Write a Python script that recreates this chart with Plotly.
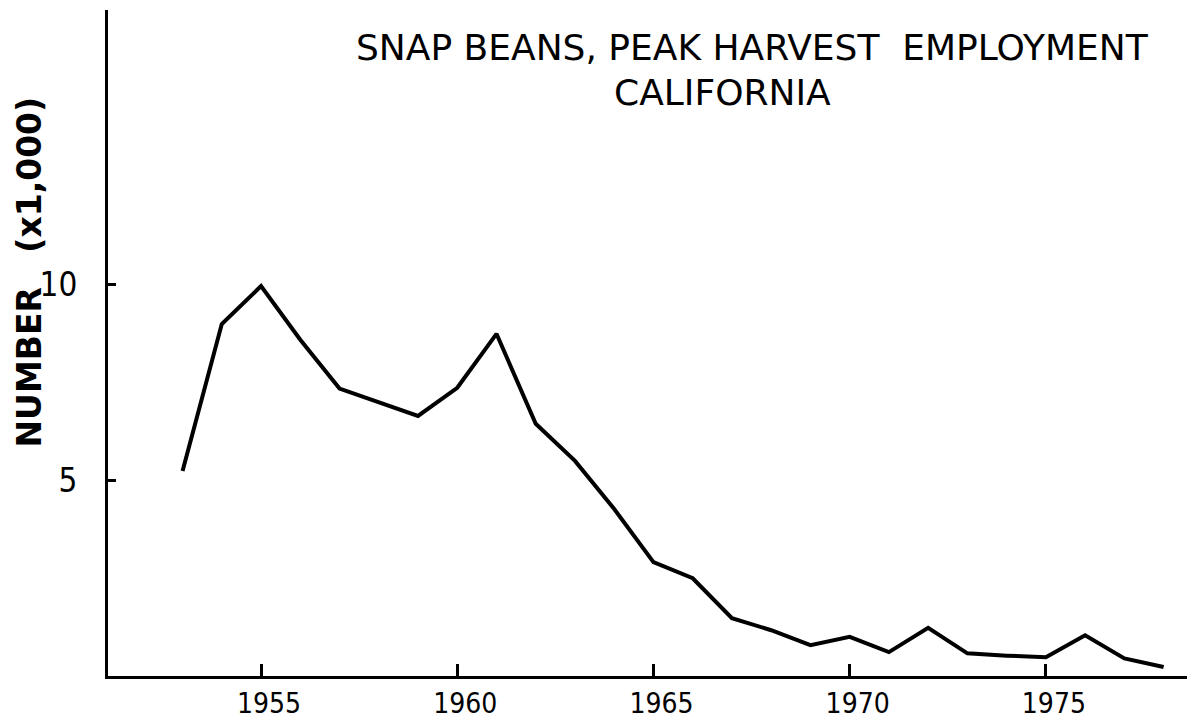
import plotly.graph_objects as go

years = list(range(1953, 1979))
workers_thousands = [5.24, 9.0, 9.97, 8.6, 7.35, 7.0, 6.65, 7.37, 8.75, 6.45,
                     5.5, 4.27, 2.91, 2.5, 1.48, 1.17, 0.79, 1.0, 0.61, 1.23,
                     0.58, 0.52, 0.48, 1.04, 0.45, 0.23]
x_ticks = [1955, 1960, 1965, 1970, 1975]
y_ticks = [5, 10]

W, H = 1187, 715          # page has an 8px body margin
L, R, T, B = 100, 0, 2, 47
PW, PH = W - L - R, H - T - B

def px(xf):
    return (xf - L) / PW

def py(yf):
    return (H - B - yf) / PH

fig = go.Figure()
fig.add_trace(go.Scatter(x=years, y=workers_thousands, mode="lines",
                         line=dict(color="black", width=4), showlegend=False))

fig.update_layout(
    width=W, height=H,
    margin=dict(l=L, r=R, t=T, b=B, autoexpand=False),
    paper_bgcolor="white", plot_bgcolor="white",
    font=dict(family="DejaVu Sans", color="black"),
    xaxis=dict(range=[1951.1, 1978.8], tickvals=x_ticks, ticktext=[str(v) for v in x_ticks],
               ticks="inside", ticklen=12, tickwidth=2.5, tickcolor="black",
               showline=True, linecolor="black", linewidth=3, showgrid=False, zeroline=False,
               tickfont=dict(size=28, family="DejaVu Sans Condensed"), ticklabelshift=8,
               ticklabelstandoff=0, automargin=False),
    yaxis=dict(range=[0, 17.03], tickvals=y_ticks, ticktext=["5", "10"],
               ticks="inside", ticklen=8, tickwidth=3, tickcolor="black",
               showline=True, linecolor="black", linewidth=3, showgrid=False, zeroline=False,
               tickfont=dict(size=33, family="DejaVu Sans Condensed"), ticklabelstandoff=21,
               automargin=False),
)

fig.add_annotation(text="SNAP BEANS, PEAK HARVEST  EMPLOYMENT", xref="paper", yref="paper",
                   x=px(744), y=py(39), showarrow=False, xanchor="center", yanchor="middle",
                   font=dict(size=36, family="DejaVu Sans"))
fig.add_annotation(text="CALIFORNIA", xref="paper", yref="paper",
                   x=px(714), y=py(84), showarrow=False, xanchor="center", yanchor="middle",
                   font=dict(size=36, family="DejaVu Sans"))
fig.add_annotation(text="<b>NUMBER   (x1,000)</b>", xref="paper", yref="paper",
                   x=px(20.5), y=py(264), showarrow=False, textangle=-90,
                   xanchor="center", yanchor="middle",
                   font=dict(size=33, family="DejaVu Sans"))

fig.write_html("out.html")
